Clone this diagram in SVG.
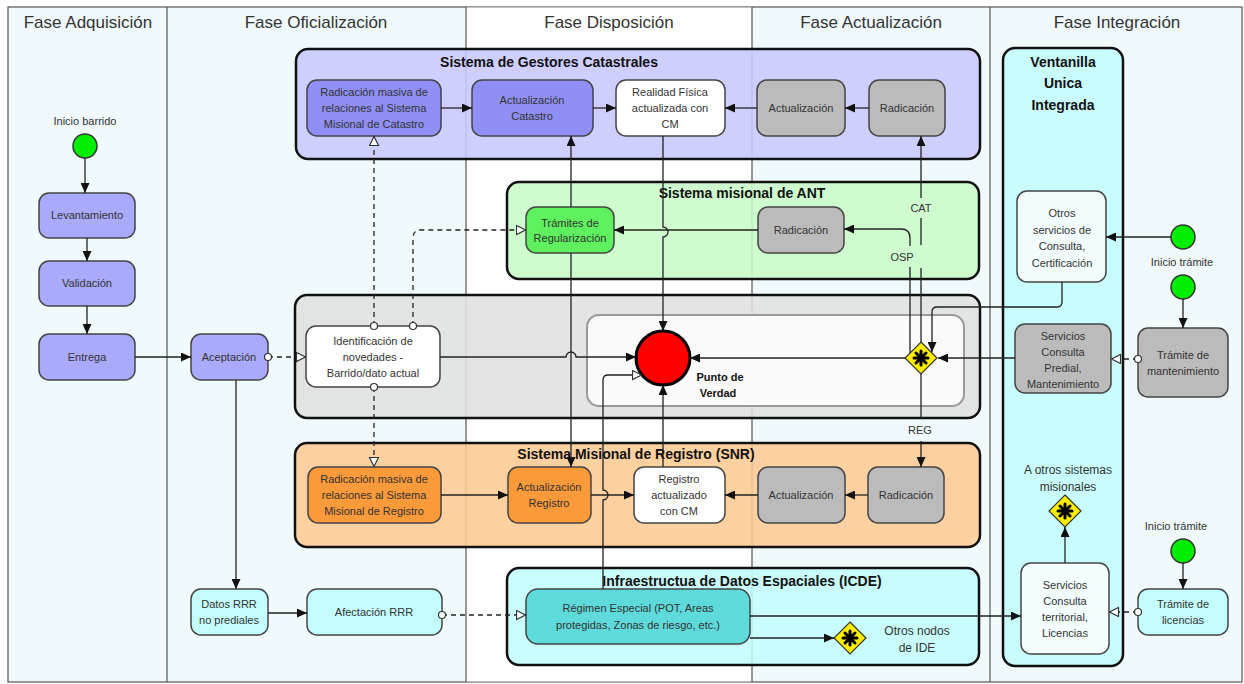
<svg xmlns="http://www.w3.org/2000/svg" xmlns:xlink="http://www.w3.org/1999/xlink" width="1244" height="684" viewBox="0 0 1244 684">
<style>
text{font-family:"Liberation Sans",Arial,sans-serif;fill:#333;text-anchor:middle}
.h{font-size:17px}
.t{font-size:11px}
.s{font-size:12px}
.b{font-size:14px;font-weight:bold;fill:#111}
.pb{font-size:11px;font-weight:bold;fill:#111}
.lane{stroke:#555;stroke-width:1.2}
.cont{stroke:#111;stroke-width:2.5;fill-opacity:0.88}
.n{stroke:#444;stroke-width:1.5}
.c{fill:none;stroke:#222;stroke-width:1.3}
.a{marker-end:url(#ar)}
.m{stroke-dasharray:5,4;marker-start:url(#dot);marker-end:url(#open)}
.start{fill:#00ee00;stroke:#333;stroke-width:1.5}
</style>
<defs>
<marker id="ar" markerUnits="userSpaceOnUse" markerWidth="11" markerHeight="9" refX="10" refY="4.5" orient="auto"><path d="M0,0 L10,4.5 L0,9 z" fill="#111"/></marker>
<marker id="open" markerUnits="userSpaceOnUse" markerWidth="12" markerHeight="11" refX="10.5" refY="5" orient="auto"><path d="M1,0.5 L10,5 L1,9.5 z" fill="#fff" stroke="#333" stroke-width="1.2"/></marker>
<marker id="dot" markerUnits="userSpaceOnUse" markerWidth="10" markerHeight="10" refX="5" refY="5" orient="auto"><circle cx="5" cy="5" r="3.5" fill="#fff" stroke="#333" stroke-width="1.2"/></marker>
<g id="gw">
<path d="M0,-16 L16,0 L0,16 L-16,0 z" fill="#ffee00" stroke="#333" stroke-width="1.2"/>
<g stroke="#000" stroke-width="3" stroke-linecap="round"><line x1="-7" y1="0" x2="7" y2="0"/><line x1="0" y1="-7" x2="0" y2="7"/><line x1="-5" y1="-5" x2="5" y2="5"/><line x1="-5" y1="5" x2="5" y2="-5"/></g>
<circle r="3.5" fill="#000"/>
</g>
</defs>

<g id="lanes">
<rect x="8" y="7" width="1234" height="675" fill="#f0fafd" stroke="#555" stroke-width="1.2"/>
<rect x="466" y="7.6" width="286" height="673.8" fill="#ffffff"/>
<line class="lane" x1="167" y1="7" x2="167" y2="682"/>
<line class="lane" x1="466" y1="7" x2="466" y2="682"/>
<line class="lane" x1="752" y1="7" x2="752" y2="682"/>
<line class="lane" x1="990" y1="7" x2="990" y2="682"/>
<text class="h" x="88" y="28">Fase Adquisición</text>
<text class="h" x="316" y="28">Fase Oficialización</text>
<text class="h" x="609" y="28">Fase Disposición</text>
<text class="h" x="871" y="28">Fase Actualización</text>
<text class="h" x="1117" y="28">Fase Integración</text>
</g>

<g id="sistema-gestores">
<rect class="cont" x="296" y="49" width="684" height="110" rx="12" fill="#c8c8ff"/>
<text class="b" x="549" y="67">Sistema de Gestores Catastrales</text>
</g>
<g id="sistema-ant">
<rect class="cont" x="507" y="182" width="472" height="97" rx="12" fill="#c8fcc8"/>
<text class="b" x="742" y="198">Sistema misional de ANT</text>
</g>
<g id="punto-area">
<rect class="cont" x="295" y="295" width="685" height="123" rx="12" fill="#e0e0e0"/>
<rect x="587" y="315" width="377" height="91" rx="12" fill="#fafafa" stroke="#9a9a9a" stroke-width="2"/>
</g>
<g id="sistema-snr">
<rect class="cont" x="295" y="443" width="685" height="104" rx="12" fill="#fdc993"/>
<text class="b" x="636" y="459">Sistema Misional de Registro (SNR)</text>
</g>
<g id="sistema-icde">
<rect class="cont" x="507" y="568" width="472" height="97" rx="12" fill="#c3fdfd"/>
<text class="b" x="742" y="586">Infraestructua de Datos Espaciales (ICDE)</text>
</g>
<g id="ventanilla">
<rect class="cont" x="1003" y="48" width="120" height="618" rx="12" fill="#c3fdfd"/>
<text class="b" x="1063" y="67">Ventanilla</text>
<text class="b" x="1063" y="88">Unica</text>
<text class="b" x="1063" y="110">Integrada</text>
</g>

<g id="inicio-barrido">
<text class="t" x="85" y="125">Inicio barrido</text>
<circle class="start" cx="85" cy="146" r="12"/>
</g>
<g id="levantamiento"><rect class="n" x="39" y="193" width="96" height="45" rx="10" fill="#aaaafc"/><text class="t" x="87" y="219">Levantamiento</text></g>
<g id="validacion"><rect class="n" x="39" y="261" width="96" height="45" rx="10" fill="#aaaafc"/><text class="t" x="87" y="287">Validación</text></g>
<g id="entrega"><rect class="n" x="39" y="334" width="96" height="46" rx="10" fill="#aaaafc"/><text class="t" x="87" y="361">Entrega</text></g>
<g id="aceptacion"><rect class="n" x="191" y="334" width="77" height="46" rx="10" fill="#aaaafc"/><text class="t" x="229" y="361">Aceptación</text></g>
<g id="datos-rrr"><rect class="n" x="191" y="589" width="77" height="46" rx="10" fill="#c3fdfd"/><text class="t" x="229" y="608">Datos RRR</text><text class="t" x="229" y="624">no prediales</text></g>
<g id="afectacion-rrr"><rect class="n" x="307" y="589" width="135" height="46" rx="10" fill="#c3fdfd"/><text class="t" x="374" y="616">Afectación RRR</text></g>

<g id="radicacion-masiva-catastro"><rect class="n" x="307" y="80" width="134" height="56" rx="10" fill="#8f8ff5"/><text class="t" x="374" y="96">Radicación masiva de</text><text class="t" x="374" y="112">relaciones al Sistema</text><text class="t" x="374" y="128">Misional de Catastro</text></g>
<g id="actualizacion-catastro"><rect class="n" x="472" y="80" width="121" height="56" rx="10" fill="#8f8ff5"/><text class="t" x="532" y="104">Actualización</text><text class="t" x="532" y="120">Catastro</text></g>
<g id="realidad-fisica"><rect class="n" x="616" y="80" width="109" height="56" rx="10" fill="#ffffff"/><text class="t" x="670" y="96">Realidad Física</text><text class="t" x="670" y="112">actualizada con</text><text class="t" x="670" y="128">CM</text></g>
<g id="actualizacion-cat-gris"><rect class="n" x="757" y="80" width="88" height="56" rx="10" fill="#bbbbbb"/><text class="t" x="801" y="112">Actualización</text></g>
<g id="radicacion-cat-gris"><rect class="n" x="869" y="80" width="76" height="56" rx="10" fill="#bbbbbb"/><text class="t" x="907" y="112">Radicación</text></g>

<g id="tramites-regularizacion"><rect class="n" x="526" y="207" width="88" height="46" rx="10" fill="#5ef05e"/><text class="t" x="570" y="227">Trámites de</text><text class="t" x="570" y="242">Regularización</text></g>
<g id="radicacion-ant"><rect class="n" x="758" y="207" width="86" height="46" rx="10" fill="#bbbbbb"/><text class="t" x="801" y="234">Radicación</text></g>

<g id="identificacion-novedades"><rect class="n" x="306" y="326" width="134" height="61" rx="10" fill="#ffffff"/><text class="t" x="373" y="345">Identificación de</text><text class="t" x="373" y="361">novedades -</text><text class="t" x="373" y="377">Barrido/dato actual</text></g>
<g id="punto-de-verdad"><circle cx="663" cy="358" r="27" fill="#ff0000" stroke="#000" stroke-width="3"/><text class="pb" x="720" y="381">Punto de</text><text class="pb" x="718" y="397">Verdad</text></g>
<g id="gateway-actualizacion"><use xlink:href="#gw" x="921" y="358"/></g>

<g id="radicacion-masiva-registro"><rect class="n" x="308" y="467" width="133" height="56" rx="10" fill="#fb9a3a"/><text class="t" x="374" y="483">Radicación masiva de</text><text class="t" x="374" y="499">relaciones al Sistema</text><text class="t" x="374" y="515">Misional de Registro</text></g>
<g id="actualizacion-registro"><rect class="n" x="508" y="467" width="83" height="56" rx="10" fill="#fb9a3a"/><text class="t" x="549" y="491">Actualización</text><text class="t" x="549" y="507">Registro</text></g>
<g id="registro-actualizado"><rect class="n" x="634" y="467" width="91" height="56" rx="10" fill="#ffffff"/><text class="t" x="679" y="483">Registro</text><text class="t" x="679" y="499">actualizado</text><text class="t" x="679" y="515">con CM</text></g>
<g id="actualizacion-snr-gris"><rect class="n" x="758" y="467" width="87" height="56" rx="10" fill="#bbbbbb"/><text class="t" x="801" y="499">Actualización</text></g>
<g id="radicacion-snr-gris"><rect class="n" x="868" y="467" width="76" height="56" rx="10" fill="#bbbbbb"/><text class="t" x="906" y="499">Radicación</text></g>

<g id="regimen-especial"><rect class="n" x="526" y="589" width="224" height="55" rx="12" fill="#5edada"/><text class="t" x="638" y="612">Régimen Especial (POT, Areas</text><text class="t" x="638" y="629">protegidas, Zonas de riesgo, etc.)</text></g>
<g id="otros-nodos-ide"><use xlink:href="#gw" x="850" y="638"/><text class="s" x="917" y="635">Otros nodos</text><text class="s" x="917" y="652">de IDE</text></g>

<g id="otros-servicios"><rect class="n" x="1017" y="191" width="89" height="91" rx="10" fill="#f2fcfc"/><text class="t" x="1062" y="217">Otros</text><text class="t" x="1062" y="233.5">servicios de</text><text class="t" x="1062" y="250">Consulta,</text><text class="t" x="1062" y="266.5">Certificación</text></g>
<g id="servicios-predial"><rect class="n" x="1015" y="324" width="96" height="69" rx="10" fill="#bbbbbb"/><text class="t" x="1063" y="340">Servicios</text><text class="t" x="1063" y="356">Consulta</text><text class="t" x="1063" y="372">Predial,</text><text class="t" x="1063" y="388">Mantenimiento</text></g>
<g id="otros-sistemas"><text class="s" x="1068" y="474">A otros sistemas</text><text class="s" x="1068" y="491">misionales</text><use xlink:href="#gw" x="1065" y="511"/></g>
<g id="servicios-territorial"><rect class="n" x="1021" y="563" width="88" height="91" rx="10" fill="#f4fefe"/><text class="t" x="1065" y="589">Servicios</text><text class="t" x="1065" y="605">Consulta</text><text class="t" x="1065" y="621">territorial,</text><text class="t" x="1065" y="637">Licencias</text></g>
<g id="inicio-tramite-1"><circle class="start" cx="1183" cy="237" r="12"/><text class="t" x="1182" y="266">Inicio trámite</text></g>
<g id="inicio-tramite-2"><circle class="start" cx="1183" cy="287" r="12"/></g>
<g id="tramite-mantenimiento"><rect class="n" x="1138" y="328" width="90" height="69" rx="10" fill="#bbbbbb"/><text class="t" x="1183" y="359">Trámite de</text><text class="t" x="1183" y="375">mantenimiento</text></g>
<g id="inicio-tramite-3"><text class="t" x="1176" y="530">Inicio trámite</text><circle class="start" cx="1183" cy="551" r="12"/></g>
<g id="tramite-licencias"><rect class="n" x="1138" y="589" width="90" height="46" rx="10" fill="#c3fdfd"/><text class="t" x="1183" y="608">Trámite de</text><text class="t" x="1183" y="624">licencias</text></g>

<g id="connectors">
<path class="c a" d="M85,158 V193"/>
<path class="c a" d="M87,238 V261"/>
<path class="c a" d="M87,306 V334"/>
<path class="c a" d="M135,357 H191"/>
<path class="c a" d="M236,380 V589"/>
<path class="c a" d="M268,613 H307"/>
<path class="c m" d="M268,357 H306"/>
<path class="c m" d="M442,615 H526"/>
<path class="c m" d="M374,326 V136"/>
<path class="c m" d="M413,326 V238 Q413,230 421,230 H526"/>
<path class="c m" d="M374,387 V467"/>
<path class="c a" d="M441,108 H472"/>
<path class="c a" d="M593,108 H616"/>
<path class="c a" d="M757,108 H725"/>
<path class="c a" d="M869,108 H845"/>
<path class="c a" d="M571,207 V136"/>
<path class="c a" d="M663,136 V227 A5,5 0 0 1 663,237 V331"/>
<path class="c a" d="M758,230 H614"/>
<path class="c a" d="M440,357 H566 A5,5 0 0 1 576,357 H636"/>
<path class="c a" d="M571,253 V467"/>
<path class="c a" d="M663,467 V385"/>
<path class="c" d="M921,342 V268"/>
<path class="c" d="M921,245 V218"/>
<path class="c a" d="M921,198 V136"/>
<path class="c" d="M910,353 V267"/>
<path class="c a" d="M910,246 V238 Q910,229 901,229 H844"/>
<path class="c" d="M921,374 V418"/>
<path class="c a" d="M921,441 V467"/>
<path class="c a" d="M1015,358 H938"/>
<path class="c a" d="M1062,282 V302 Q1062,307 1057,307 H937 Q932,307 932,312 V352"/>
<path class="c a" d="M1171,237 H1106"/>
<path class="c a" d="M1183,299 V328"/>
<path class="c m" d="M1138,359 H1111"/>
<path class="c a" d="M1183,563 V589"/>
<path class="c m" d="M1138,612 H1109"/>
<path class="c a" d="M1065,563 V527"/>
<path class="c a" d="M750,616 H1021"/>
<path class="c a" d="M750,638 H834"/>
<path class="c" d="M603,589 V500 A5,5 0 0 0 603,490 V380 Q603,375 608,375 H642" style="marker-end:url(#open)"/>
<path class="c a" d="M591,495 H634"/>
<path class="c a" d="M441,495 H508"/>
<path class="c a" d="M758,495 H725"/>
<path class="c a" d="M868,495 H845"/>
<path class="c a" d="M905,358 H690"/>
<text class="t" x="921" y="212">CAT</text>
<text class="t" x="902" y="261">OSP</text>
<text class="t" x="920" y="434">REG</text>
</g>
</svg>
